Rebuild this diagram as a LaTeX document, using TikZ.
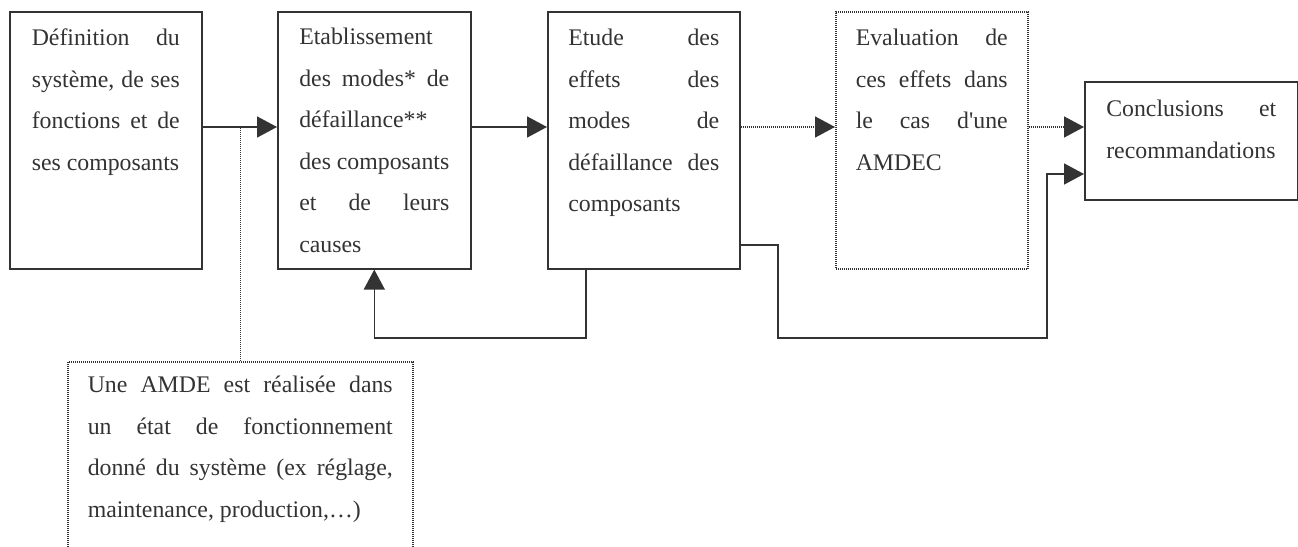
\documentclass[tikz,border=0pt]{standalone}
\usepackage{fontspec}
\setmainfont{Liberation Serif}
\usetikzlibrary{arrows.meta}
\definecolor{ink}{HTML}{333333}
\newcommand\boxtxt[4]{\parbox[t][#2][t]{#1}{\fontsize{23.8pt}{41.5pt}\selectfont\hyphenpenalty=10000\exhyphenpenalty=10000\color{ink}\rule{0pt}{#3}#4}}
\begin{document}
\begin{tikzpicture}[x=1pt,y=-1pt,
  boxs/.style={draw=ink, line width=1.6pt, rectangle, inner sep=0pt, anchor=north west},
  dotb/.style={draw=ink, line width=1.5pt, dash pattern=on 1pt off 1pt, rectangle, inner sep=0pt, anchor=north west},
  arr/.style={draw=ink, line width=1.6pt, -{Triangle[length=20pt,width=21pt]}},
  darr/.style={draw=ink, line width=1.5pt, dash pattern=on 1pt off 1pt, -{Triangle[length=20pt,width=21pt]}},
  dline/.style={draw=ink, line width=1.5pt, dash pattern=on 1pt off 1pt}]
\useasboundingbox (0,0) rectangle (1298,546);
\node[boxs, minimum width=192pt] (b1) at (9,11)
  {\boxtxt{148pt}{257pt}{34pt}{Définition du\linebreak système, de ses\linebreak fonctions et de\linebreak ses composants}};
\node[boxs, minimum width=193pt] (b2) at (277,11)
  {\boxtxt{150pt}{257pt}{33pt}{Etablissement\\des modes* de\linebreak défaillance**\\des composants\linebreak et de leurs\linebreak causes}};
\node[boxs, minimum width=192pt] (b3) at (547,11)
  {\boxtxt{151pt}{257pt}{34pt}{Etude des\linebreak effets des\linebreak modes de\linebreak défaillance des\linebreak composants}};
\node[dotb, minimum width=192pt] (b4) at (835,11)
  {\boxtxt{152pt}{257pt}{34pt}{Evaluation de\linebreak ces effets dans\linebreak le cas d\textquotesingle une\linebreak AMDEC}};
\node[boxs, minimum width=213pt] (b5) at (1084,81)
  {\boxtxt{170pt}{118pt}{35pt}{Conclusions et\linebreak recommandations}};
\node[dotb, minimum width=345pt] (nb) at (67,361)
  {\boxtxt{305pt}{200pt}{31pt}{Une AMDE est réalisée dans\linebreak un état de fonctionnement\linebreak donné du système (ex réglage,\linebreak maintenance, production,…)}};
\coordinate (ay) at (0,127);
\coordinate (fb) at (586,338);
\coordinate (e0) at (778,245);
\coordinate (e1) at (778,338);
\coordinate (e2) at (1047,174);
\draw[arr] (b1.east |- ay) -- (b2.west |- ay);
\draw[arr] (b2.east |- ay) -- (b3.west |- ay);
\draw[darr] (b3.east |- ay) -- (b4.west |- ay);
\draw[darr] (b4.east |- ay) -- (b5.west |- ay);
\draw[dline] (nb.north) -- (nb.north |- ay);
\draw[arr] (b3.south -| fb) -- (fb) -| (b2.south);
\draw[arr] (b3.east |- e0) -- (e0) -- (e1) -| (e2) -- (b5.west |- e2);
\end{tikzpicture}
\end{document}
